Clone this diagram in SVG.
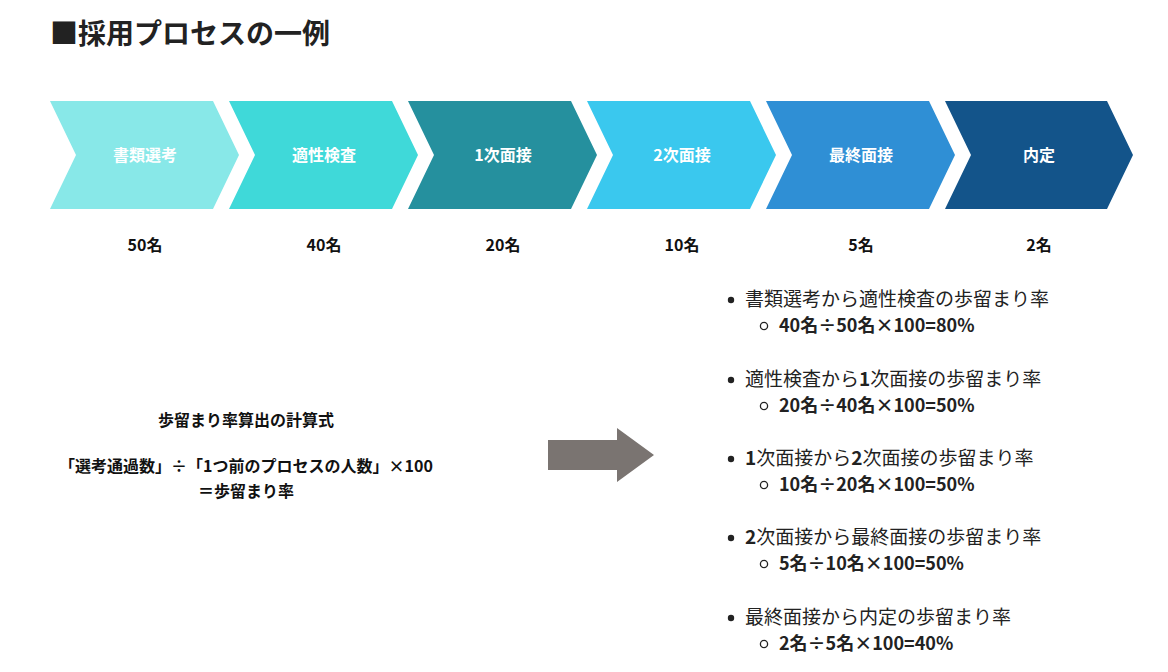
<svg xmlns="http://www.w3.org/2000/svg" width="1168" height="672" viewBox="0 0 1168 672">
<style>
text{font-family:"Noto Sans CJK JP","Noto Sans",sans-serif;}
.lb{fill:#fff;font-size:16px;font-weight:700;text-anchor:middle;}
.ct{fill:#111;font-size:16px;font-weight:700;text-anchor:middle;}
.bl{fill:#222;font-size:19px;}
.sb{fill:#222;font-size:18px;font-weight:700;}
.b{font-weight:700;}
</style>
<rect width="1168" height="672" fill="#fff"/>
<text x="50" y="44" font-size="28" font-weight="700" fill="#222">■採用プロセスの一例</text>
<g id="n1"><polygon points="50,101 213,101 239,155 213,209 50,209 76,155" fill="#88E8E8"/><text class="lb" x="145" y="161">書類選考</text><text class="ct" x="145" y="251">50名</text></g>
<g id="n2"><polygon points="229,101 392,101 418,155 392,209 229,209 255,155" fill="#3FD9D9"/><text class="lb" x="324" y="161">適性検査</text><text class="ct" x="324" y="251">40名</text></g>
<g id="n3"><polygon points="408,101 571,101 597,155 571,209 408,209 434,155" fill="#25909E"/><text class="lb" x="503" y="161">1次面接</text><text class="ct" x="503" y="251">20名</text></g>
<g id="n4"><polygon points="587,101 750,101 776,155 750,209 587,209 613,155" fill="#3AC8EE"/><text class="lb" x="682" y="161">2次面接</text><text class="ct" x="682" y="251">10名</text></g>
<g id="n5"><polygon points="766,101 929,101 955,155 929,209 766,209 792,155" fill="#2F8FD5"/><text class="lb" x="861" y="161">最終面接</text><text class="ct" x="861" y="251">5名</text></g>
<g id="n6"><polygon points="945,101 1107,101 1133,155 1107,209 945,209 971,155" fill="#13548A"/><text class="lb" x="1039" y="161">内定</text><text class="ct" x="1039" y="251">2名</text></g>
<g id="formula">
<text class="ct" x="246" y="426" font-size="15">歩留まり率算出の計算式</text>
<text class="ct" x="246" y="472" font-size="15">「選考通過数」÷「1つ前のプロセスの人数」×100</text>
<text class="ct" x="246" y="497" font-size="15">＝歩留まり率</text>
</g>
<g id="connectors"><polygon points="548,440 617,440 617,428 654,455 617,482 617,470 548,470" fill="#7A7471"/></g>
<g id="list">
<circle cx="731" cy="300" r="3.2" fill="#222"/><text class="bl" x="745" y="306">書類選考から適性検査の歩留まり率</text>
<circle cx="764" cy="326" r="3.6" fill="none" stroke="#222" stroke-width="1.3"/><text class="sb" x="779" y="332">40名÷50名×100=80%</text>
<circle cx="731" cy="380" r="3.2" fill="#222"/><text class="bl" x="745" y="386">適性検査から<tspan class="b">1</tspan>次面接の歩留まり率</text>
<circle cx="764" cy="406" r="3.6" fill="none" stroke="#222" stroke-width="1.3"/><text class="sb" x="779" y="412">20名÷40名×100=50%</text>
<circle cx="731" cy="459" r="3.2" fill="#222"/><text class="bl" x="745" y="465"><tspan class="b">1</tspan>次面接から<tspan class="b">2</tspan>次面接の歩留まり率</text>
<circle cx="764" cy="485" r="3.6" fill="none" stroke="#222" stroke-width="1.3"/><text class="sb" x="779" y="491">10名÷20名×100=50%</text>
<circle cx="731" cy="538" r="3.2" fill="#222"/><text class="bl" x="745" y="544"><tspan class="b">2</tspan>次面接から最終面接の歩留まり率</text>
<circle cx="764" cy="564" r="3.6" fill="none" stroke="#222" stroke-width="1.3"/><text class="sb" x="779" y="570">5名÷10名×100=50%</text>
<circle cx="731" cy="618" r="3.2" fill="#222"/><text class="bl" x="745" y="624">最終面接から内定の歩留まり率</text>
<circle cx="764" cy="644" r="3.6" fill="none" stroke="#222" stroke-width="1.3"/><text class="sb" x="779" y="650">2名÷5名×100=40%</text>
</g>
</svg>
